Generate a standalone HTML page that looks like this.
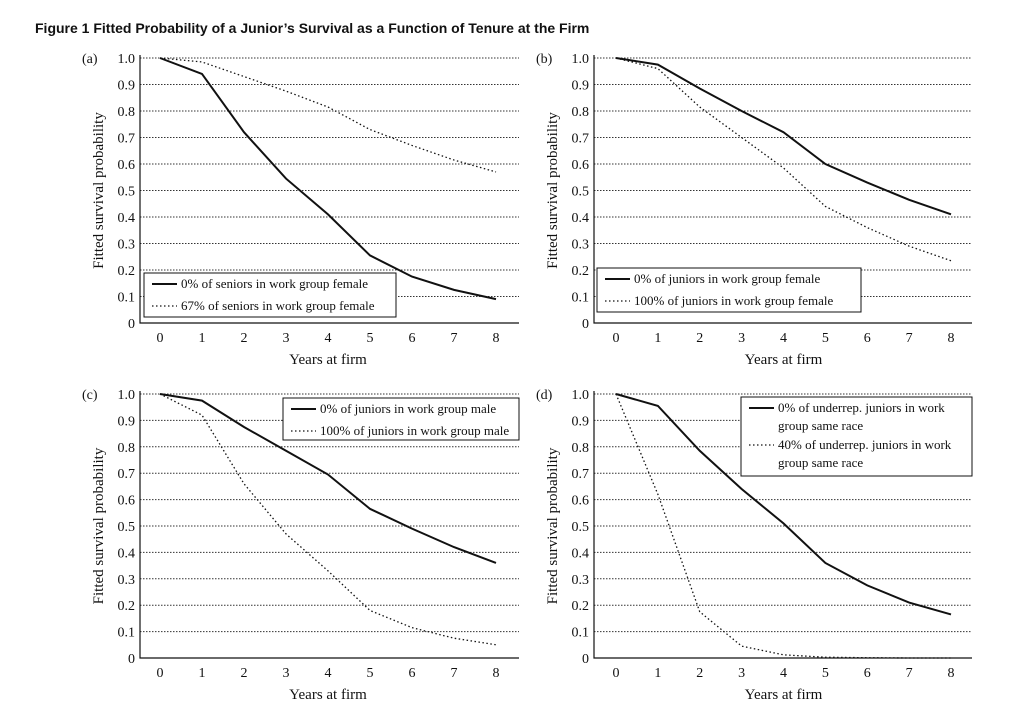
<!DOCTYPE html>
<html><head><meta charset="utf-8"><style>
body{margin:0;background:#fff;width:1023px;height:710px;overflow:hidden}
svg text{font-family:"Liberation Serif",serif;fill:#111}
</style></head><body>
<svg width="1023" height="710">
<text x="35" y="33" style="font-family:'Liberation Sans',sans-serif;font-weight:bold;font-size:14px">Figure 1   Fitted Probability of a Junior’s Survival as a Function of Tenure at the Firm</text>
<g id="root"></g>
</svg>
<script>
const years=[0,1,2,3,4,5,6,7,8];
const ticksY=[0,0.1,0.2,0.3,0.4,0.5,0.6,0.7,0.8,0.9,1.0];
const tickLabelsY=["0","0.1","0.2","0.3","0.4","0.5","0.6","0.7","0.8","0.9","1.0"];
const aSolid=[1,0.94,0.72,0.545,0.41,0.255,0.175,0.125,0.09];
const aDotted=[1,0.985,0.93,0.875,0.815,0.73,0.67,0.615,0.57];
const bSolid=[1,0.975,0.885,0.8,0.72,0.6,0.53,0.465,0.41];
const bDotted=[1,0.96,0.815,0.7,0.585,0.44,0.36,0.29,0.235];
const cSolid=[1,0.975,0.875,0.785,0.695,0.565,0.49,0.42,0.36];
const cDotted=[1,0.92,0.66,0.47,0.33,0.18,0.115,0.075,0.05];
const dSolid=[1,0.955,0.785,0.64,0.51,0.36,0.275,0.21,0.165];
const dDotted=[1,0.62,0.175,0.045,0.012,0.003,0.001,0,0];
const NS="http://www.w3.org/2000/svg";
const root=document.getElementById('root');
function mk(t,a,p){const e=document.createElementNS(NS,t);for(const k in a)e.setAttribute(k,a[k]);(p||root).appendChild(e);return e;}
const panels=[
 {id:'a',ax:140,right:519,top:58,bot:323,x0:160,x8:496,s:aSolid,d:aDotted,
  leg:{x:144,y:273,w:252,h:44,lines:[["0% of seniors in work group female"],["67% of seniors in work group female"]]}},
 {id:'b',ax:594,right:972,top:58,bot:323,x0:616,x8:951,s:bSolid,d:bDotted,
  leg:{x:597,y:268,w:264,h:44,lines:[["0% of juniors in work group female"],["100% of juniors in work group female"]]}},
 {id:'c',ax:140,right:519,top:394,bot:658,x0:160,x8:496,s:cSolid,d:cDotted,
  leg:{x:283,y:398,w:236,h:42,lines:[["0% of juniors in work group male"],["100% of juniors in work group male"]]}},
 {id:'d',ax:594,right:972,top:394,bot:658,x0:616,x8:951,s:dSolid,d:dDotted,
  leg:{x:741,y:397,w:231,h:79,lines:[["0% of underrep. juniors in work","group same race"],["40% of underrep. juniors in work","group same race"]]}}
];
panels.forEach(p=>{
  const g=mk('g',{});
  
  
  const X=v=>p.x0+(p.x8-p.x0)*v/8;
  const Y=v=>p.bot-(p.bot-p.top)*v;
  ticksY.forEach((t,i)=>{
    if(t>0){const gl=mk('line',{x1:p.ax,x2:p.right,y1:Y(t),y2:Y(t),stroke:'#333','stroke-width':1,'stroke-dasharray':'1.5,1.5'},g);
    }
    const tl=mk('text',{x:p.ax-5,y:Y(t)+5,'text-anchor':'end','font-size':14},g);tl.textContent=tickLabelsY[i];
    
  });
  years.forEach(v=>{const t=mk('text',{x:X(v),y:p.bot+19,'text-anchor':'middle','font-size':14},g);t.textContent=String(v);
    });
  const axl=mk('path',{d:`M${p.ax},${p.top-3}V${p.bot}H${p.right}`,fill:'none',stroke:'#111','stroke-width':1.2},g);
  
  const xt=mk('text',{x:(p.x0+p.x8)/2,y:p.bot+41,'text-anchor':'middle','font-size':15},g);xt.textContent='Years at firm';
  
  const cy=(p.top+p.bot)/2, cx=p.ax-37;
  const yt=mk('text',{x:cx,y:cy,'text-anchor':'middle','font-size':15,transform:`rotate(-90 ${cx} ${cy})`},g);yt.textContent='Fitted survival probability';
  
  const pl=mk('text',{x:p.ax-58,y:p.top+5,'font-size':14},g);pl.textContent='('+p.id+')';
  
  const pts=a=>a.map((v,i)=>X(years[i])+','+Y(v)).join(' ');
  const ld=mk('polyline',{points:pts(p.d),fill:'none',stroke:'#111','stroke-width':1.3,'stroke-dasharray':'1.5,2.5'},g);
  
  const ls=mk('polyline',{points:pts(p.s),fill:'none',stroke:'#111','stroke-width':2},g);
  
  const L=p.leg;
  const lg=mk('g',{},g);
  
  mk('rect',{x:L.x,y:L.y,width:L.w,height:L.h,fill:'#fff',stroke:'#111','stroke-width':1},lg);
  let ty=L.y+15;
  L.lines.forEach((ls2,k)=>{
    const sy=ty-4;
    if(k===0)mk('line',{x1:L.x+8,x2:L.x+33,y1:sy,y2:sy,stroke:'#111','stroke-width':2},lg);
    else mk('line',{x1:L.x+8,x2:L.x+33,y1:sy,y2:sy,stroke:'#111','stroke-width':1.2,'stroke-dasharray':'1.5,2.5'},lg);
    ls2.forEach((s,j)=>{const t=mk('text',{x:L.x+37,y:ty+j*18,'font-size':13},lg);t.textContent=s;
      });
    ty+=18*ls2.length+(L.lines[0].length>1?1:4);
  });
});
</script>
</body></html>
